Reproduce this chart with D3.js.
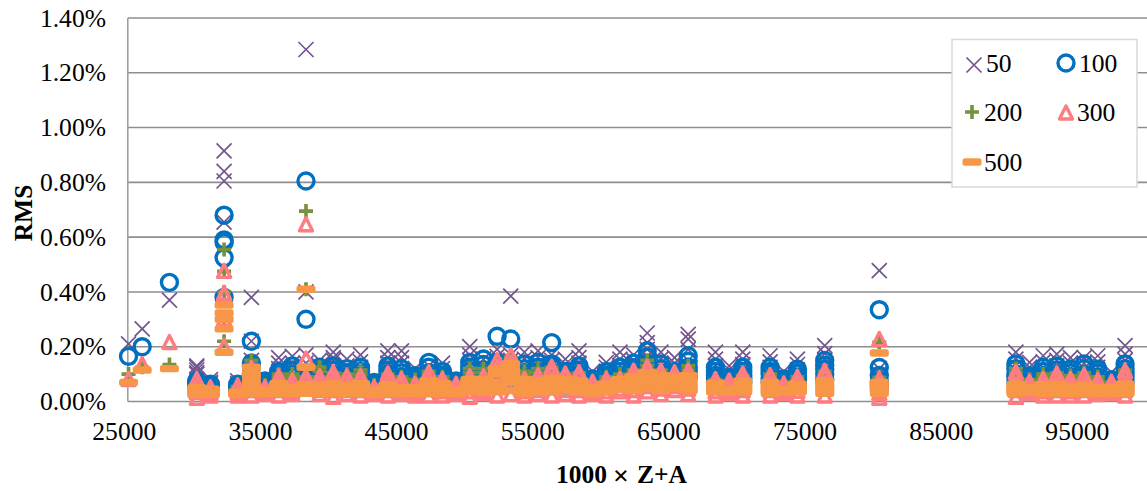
<!DOCTYPE html>
<html>
<head>
<meta charset="utf-8">
<script src="https://cdn.jsdelivr.net/npm/d3@7"></script>
<style>
  html, body { margin: 0; padding: 0; background: #fff; overflow: hidden; }
  text { font-family: "Liberation Serif", serif; fill: #000; }
  .axis path, .axis line { display: none; }
  .axis text { font-size: 25.6px; font-family: "Liberation Serif", serif; }
  .title { font-size: 25.5px; font-weight: bold; }
</style>
</head>
<body>
<svg id="Vis" width="1147" height="491"></svg>
<script>
/* DATA: one row per nuclide, grouped by element. rms values in percent */
const za = [
  25055, 26056, 28058,
  30064,30066,30068, 31069,31070,31071, 32070,32072,32073,32074,32076, 33073,33075,33076,
  34074,34076,34077,34078,34080,34082, 35079,35080,35081, 36082,36084,36086, 37085,37086,37087,
  38084,38086,38087,38088, 39088,39089,39090, 40090,40092,40094, 41092,41093,41094,
  42094,42096,42098, 43097,43098,43099, 44100,44102,44104, 45102,45103,45105,
  46104,46106,46108, 47107,47108,47109, 48110,48112,48114, 49113,49114,49115,
  50116,50118,50120, 51121,51122,51123, 52126,52128,52130, 53127,53129,53131,
  54130,54132,54134, 55133,55134,55135, 56134,56136,56138, 57138,57139,57140,
  58140,58141,58142, 59141,59142,59143, 60144,60146,60148, 61147,61148,61149,
  62150,62152,62154, 63151,63153,63155, 64156,64158,64160, 65158,65159,65160,
  66160,66162,66164, 68164,68166,68168, 69168,69169,69170, 70170,70172,70174,
  72176,72178,72180, 73180,73181,73182, 74182,74184,74186, 76188,76190,76192,
  80196,80198,80200,80202,
  90228,90230,90232, 91229,91231,91233, 92234,92236,92238, 93235,93237,93239,
  94238,94240,94242, 95241,95243,95245, 96244,96246,96248, 97247,97249,97251, 98249,98251,98252,
  // remaining isotopes, two per element
  30065,30067, 31072,31073, 33074,33077, 34075,34079, 35078,35082, 36083,36085, 37084,37088,
  38085,38089, 39087,39091, 40091,40093, 41091,41095, 42095,42097, 43096,43100, 44101,44103,
  45101,45104, 46105,46107, 47106,47110, 48111,48113, 49112,49116, 50117,50119, 51120,51124,
  52127,52129, 53128,53130, 54131,54133, 55132,55136, 56135,56137, 57137,57141, 58139,58143,
  59140,59144, 60145,60147, 61146,61150, 62151,62153, 63152,63154, 64157,64159, 65157,65161,
  66161,66163, 68165,68167, 69167,69171, 70171,70173, 72177,72179, 73179,73183, 74183,74185,
  76189,76191, 80199,80201,
  90229,90231, 91230,91232, 92235,92237, 93236,93238, 94239,94241, 95242,95244, 96245,96247,
  97248,97250, 98250,98253
];

const rms50 = [
  .21, .265, .37,
  .13,.115,.10, .08,.07,.055, .655,.805,.915,.84,.48, .075,.06,.05,
  .08,.13,.22,.38,.15,.10, .07,.06,.05, .16,.12,.09, .165,.125,.09,
  .10,.17,.40,1.285, .15,.11,.08, .18,.16,.11, .155,.115,.08,
  .17,.125,.09, .08,.065,.05, .185,.14,.10, .185,.14,.09,
  .12,.095,.07, .13,.105,.08, .14,.105,.08, .09,.07,.055,
  .20,.15,.105, .155,.12,.09, .19,.15,.11, .385,.15,.11,
  .18,.135,.10, .185,.14,.10, .17,.13,.10, .155,.12,.09,
  .185,.14,.10, .11,.085,.065, .143,.11,.08, .18,.13,.095,
  .17,.13,.10, .25,.19,.14, .18,.14,.105, .16,.12,.09,
  .245,.228,.15, .18,.13,.09, .13,.10,.07, .18,.135,.095,
  .167,.125,.09, .11,.085,.06, .155,.115,.085, .204,.15,.095,
  .478,.12,.10,.08,
  .18,.13,.095, .143,.105,.075, .167,.125,.09, .173,.13,.095,
  .16,.12,.09, .16,.12,.09, .167,.125,.09, .106,.08,.06, .204,.173,.10,
  //
  .125,.105, .065,.05, .065,.055, .12,.09, .06,.05, .14,.105, .14,.11,
  .14,.10, .13,.10, .15,.125, .13,.10, .145,.105, .07,.055, .16,.12,
  .16,.12, .10,.085, .115,.09, .12,.09, .08,.06, .17,.13, .13,.105,
  .165,.13, .17,.13, .155,.12, .16,.12, .15,.115, .135,.105, .16,.12,
  .095,.075, .125,.095, .155,.115, .15,.115, .215,.165, .155,.12, .14,.105,
  .19,.13, .155,.11, .115,.085, .155,.115, .145,.11, .095,.075, .135,.10,
  .175,.13, .09,.07,
  .155,.115, .125,.09, .145,.11, .15,.115, .14,.105, .14,.105, .145,.11,
  .09,.07, .15,.12
];

const rms100 = [
  .165, .20, .435,
  .075,.065,.05, .063,.05,.04, .38,.525,.68,.59,.58, .063,.05,.04,
  .06,.09,.22,.14,.13,.07, .075,.06,.045, .11,.085,.06, .13,.10,.07,
  .07,.09,.30,.805, .125,.095,.065, .13,.10,.07, .12,.09,.065,
  .125,.095,.07, .07,.055,.04, .13,.10,.07, .12,.09,.065,
  .094,.075,.055, .143,.105,.075, .11,.085,.06, .075,.06,.045,
  .143,.11,.08, .155,.115,.08, .238,.143,.09, .228,.12,.085,
  .137,.105,.075, .143,.11,.08, .215,.137,.09, .11,.085,.06,
  .13,.10,.07, .082,.065,.05, .11,.085,.06, .125,.095,.07,
  .14,.11,.08, .185,.14,.10, .137,.105,.075, .11,.085,.065,
  .167,.125,.09, .125,.095,.07, .088,.07,.055, .125,.095,.07,
  .125,.10,.07, .082,.065,.05, .118,.09,.065, .15,.118,.08,
  .335,.124,.07,.05,
  .137,.10,.07, .094,.07,.05, .125,.095,.07, .13,.10,.07,
  .118,.09,.065, .137,.10,.07, .118,.09,.065, .08,.06,.045, .137,.105,.07,
  //
  .07,.058, .057,.045, .057,.045, .10,.08, .068,.053, .098,.075, .115,.09,
  .10,.08, .11,.085, .115,.09, .105,.08, .11,.085, .063,.05, .115,.09,
  .105,.08, .085,.065, .125,.09, .097,.075, .068,.052, .125,.095, .135,.10,
  .125,.105, .14,.105, .12,.09, .125,.095, .125,.105, .097,.075, .115,.09,
  .073,.057, .097,.075, .11,.085, .123,.095, .163,.125, .12,.095, .097,.075,
  .147,.11, .11,.085, .08,.062, .11,.085, .11,.085, .073,.057, .104,.08,
  .132,.10, .095,.06,
  .12,.09, .083,.062, .11,.085, .115,.09, .105,.08, .12,.09, .105,.08,
  .07,.053, .12,.09
];

const rms200 = [
  .10, .125, .135,
  .06,.05,.04, .05,.04,.035, .22,.30,.555,.475,.40, .055,.045,.035,
  .05,.08,.15,.13,.10,.06, .06,.05,.04, .10,.075,.055, .10,.08,.06,
  .06,.09,.41,.695, .125,.09,.06, .105,.08,.06, .10,.075,.055,
  .115,.085,.06, .06,.05,.035, .10,.08,.055, .09,.07,.05,
  .08,.06,.045, .11,.085,.06, .09,.07,.05, .065,.05,.04,
  .12,.09,.065, .12,.09,.065, .135,.10,.07, .16,.11,.07,
  .11,.085,.06, .12,.09,.065, .125,.095,.07, .10,.075,.055,
  .105,.08,.06, .07,.055,.04, .09,.07,.05, .10,.08,.06,
  .115,.09,.065, .15,.115,.08, .115,.09,.065, .10,.08,.06,
  .13,.10,.07, .08,.065,.05, .075,.06,.045, .095,.075,.055,
  .10,.08,.055, .07,.055,.04, .09,.07,.05, .11,.085,.06,
  .216,.088,.06,.04,
  .12,.09,.06, .08,.06,.045, .10,.08,.055, .105,.08,.055,
  .095,.075,.055, .105,.08,.055, .09,.07,.05, .07,.055,.04, .115,.09,.06,
  //
  .055,.045, .045,.037, .05,.04, .09,.07, .055,.045, .088,.065, .09,.07,
  .08,.07, .11,.075, .095,.07, .088,.065, .10,.075, .055,.042, .09,.07,
  .08,.06, .07,.055, .098,.075, .08,.06, .058,.045, .105,.08, .105,.08,
  .12,.085, .135,.09, .098,.075, .105,.08, .11,.085, .088,.065, .093,.07,
  .063,.048, .08,.06, .09,.07, .103,.08, .132,.10, .10,.08, .09,.07,
  .115,.085, .072,.057, .068,.052, .085,.065, .09,.07, .063,.048, .08,.062,
  .098,.075, .075,.05,
  .105,.08, .07,.052, .09,.07, .093,.07, .085,.065, .093,.07, .08,.062,
  .063,.048, .10,.08
];

const rms300 = [
  .08, .135, .215,
  .08,.045,.012, .05,.035,.02, .20,.395,.475,.30,.39, .057,.04,.02,
  .04,.07,.12,.11,.09,.02, .05,.04,.025, .09,.06,.02, .075,.05,.025,
  .05,.075,.155,.645, .09,.06,.025, .105,.065,.015, .09,.055,.025,
  .09,.055,.02, .05,.035,.025, .10,.06,.02, .08,.05,.025,
  .063,.04,.02, .105,.065,.02, .08,.05,.02, .063,.04,.025,
  .09,.055,.015, .09,.055,.03, .15,.09,.02, .167,.10,.025,
  .08,.05,.02, .094,.06,.025, .125,.07,.02, .10,.06,.025,
  .105,.06,.02, .07,.045,.025, .08,.05,.02, .08,.06,.035,
  .11,.065,.02, .125,.08,.035, .11,.065,.025, .105,.07,.04,
  .11,.07,.025, .08,.05,.02, .075,.05,.03, .10,.06,.02,
  .094,.06,.02, .063,.045,.03, .088,.055,.02, .11,.065,.02,
  .226,.08,.05,.012,
  .106,.06,.015, .07,.045,.03, .08,.05,.02, .10,.06,.02,
  .08,.05,.02, .094,.055,.02, .076,.05,.025, .07,.045,.03, .11,.065,.02,
  //
  .066,.033, .042,.028, .047,.03, .08,.05, .043,.032, .075,.04, .063,.037,
  .09,.05, .075,.04, .085,.04, .075,.04, .075,.04, .043,.03, .082,.04,
  .066,.037, .052,.03, .086,.043, .066,.035, .052,.032, .075,.035, .075,.04,
  .125,.055, .14,.06, .066,.035, .078,.04, .105,.05, .085,.04, .088,.04,
  .058,.035, .066,.035, .07,.045, .09,.04, .105,.055, .09,.045, .09,.055,
  .09,.045, .066,.035, .062,.04, .082,.04, .078,.04, .053,.037, .072,.037,
  .09,.045, .065,.03,
  .088,.04, .058,.037, .066,.035, .082,.04, .066,.035, .078,.04, .063,.035,
  .058,.037, .09,.04
];

const rms500 = [
  .07, .115, .12,
  .05,.035,.025, .045,.035,.025, .18,.265,.352,.323,.30, .035,.03,.025,
  .03,.06,.125,.09,.07,.04, .04,.035,.03, .065,.045,.03, .05,.04,.03,
  .03,.06,.125,.41, .06,.045,.03, .065,.05,.03, .06,.045,.03,
  .065,.045,.03, .04,.035,.025, .06,.045,.03, .05,.04,.03,
  .05,.04,.03, .075,.05,.03, .065,.045,.03, .04,.035,.03,
  .08,.055,.035, .08,.055,.035, .12,.07,.035, .137,.095,.04,
  .08,.055,.03, .075,.055,.035, .085,.06,.035, .08,.06,.04,
  .075,.055,.035, .05,.04,.03, .063,.05,.035, .08,.06,.045,
  .09,.065,.04, .105,.075,.05, .094,.065,.04, .09,.065,.05,
  .094,.065,.04, .067,.05,.035, .045,.04,.035, .075,.055,.035,
  .07,.05,.03, .045,.04,.035, .063,.05,.035, .075,.05,.03,
  .177,.07,.045,.03,
  .063,.045,.03, .05,.04,.035, .06,.045,.03, .063,.045,.03,
  .055,.045,.03, .06,.045,.03, .05,.04,.03, .05,.04,.03, .063,.045,.03,
  //
  .043,.03, .04,.03, .032,.028, .10,.05, .037,.032, .055,.038, .045,.035,
  .06,.04, .052,.038, .055,.04, .052,.038, .055,.04, .037,.03, .052,.038,
  .045,.035, .045,.035, .063,.042, .055,.04, .037,.032, .068,.045, .068,.045,
  .10,.052, .115,.07, .068,.045, .065,.045, .072,.05, .07,.05, .065,.045,
  .045,.035, .056,.042, .07,.052, .078,.052, .09,.062, .08,.052, .078,.058,
  .08,.052, .058,.042, .042,.038, .065,.045, .06,.04, .042,.038, .056,.042,
  .062,.04, .06,.04,
  .055,.038, .045,.038, .052,.038, .055,.038, .05,.038, .052,.038, .045,.035,
  .045,.035, .055,.038
];

const seriesNames = ["50", "100", "200", "300", "500"];
const xTicks = [25000, 35000, 45000, 55000, 65000, 75000, 85000, 95000];
const yTicks = [0, 0.2, 0.4, 0.6, 0.8, 1.0, 1.2, 1.4];

const svg = d3.select("svg#Vis");

/* SCALES */
const xScale = d3.scaleLinear().domain([25000, 100000]).range([127.8, 1148.9]);
const yScale = d3.scaleLinear().domain([0, 1.4]).range([401.5, 18]);

/* GRID + AXES */
svg.append("g").selectAll("line")
  .data(yTicks)
  .enter()
  .append("line")
    .attr("x1", xScale(25000))
    .attr("x2", 1147)
    .attr("y1", d => yScale(d))
    .attr("y2", d => yScale(d))
    .attr("stroke", "#8e8e8e")
    .attr("stroke-width", 1.6);

svg.append("line")
  .attr("x1", xScale(25000)).attr("x2", xScale(25000))
  .attr("y1", yScale(1.4)).attr("y2", yScale(0))
  .attr("stroke", "#a0a0a0").attr("stroke-width", 1.6);

const xAxis = d3.axisBottom(xScale).tickValues(xTicks).tickFormat(d3.format("d")).tickSize(0);
const yAxis = d3.axisLeft(yScale).tickValues(yTicks).tickFormat(d => d.toFixed(2) + "%").tickSize(0);

svg.append("g").attr("class", "axis")
  .attr("transform", "translate(-4,401.5)")
  .call(xAxis)
  .call(g => g.selectAll("text").attr("dy", 0).attr("y", 38.5));

svg.append("g").attr("class", "axis")
  .attr("transform", "translate(106,0)")
  .call(yAxis)
  .call(g => g.selectAll("text").attr("x", 0).attr("dy", "0.32em"));

/* MARKERS */
const markers = {
  "50": g => g.append("path").attr("d", "M-7.5,-7.5L7.5,7.5M-7.5,7.5L7.5,-7.5")
      .attr("fill", "none").attr("stroke", "#72558f").attr("stroke-width", 1.7),
  "100": g => g.append("circle").attr("r", 8)
      .attr("fill", "none").attr("stroke", "#0070c0").attr("stroke-width", 3.4),
  "200": g => g.append("path").attr("d", "M-7,0H7M0,-7V7")
      .attr("fill", "none").attr("stroke", "#76923c").attr("stroke-width", 3.6),
  "300": g => g.append("path").attr("d", "M0,-7L6.5,6H-6.5Z")
      .attr("fill", "none").attr("stroke", "#ff7c80").attr("stroke-width", 3.4)
      .attr("stroke-linejoin", "round"),
  "500": g => g.append("rect").attr("x", -9.5).attr("y", -3.7).attr("width", 19).attr("height", 7.4)
      .attr("rx", 2.5).attr("fill", "#f79646")
};

function drawSeries(name, values) {
  const group = svg.append("g").attr("class", "series-" + name);
  values.forEach((v, i) => {
    const g = group.append("g")
      .attr("transform", "translate(" + xScale(za[i]) + "," + yScale(v) + ")");
    markers[name](g);
  });
}

[rms50, rms100, rms200, rms300, rms500].forEach((vals, i) => drawSeries(seriesNames[i], vals));

/* LEGEND */
const legend = svg.append("g");
legend.append("rect")
  .attr("x", 952).attr("y", 39.5).attr("width", 185).attr("height", 147.5)
  .attr("fill", "#fff").attr("stroke", "#d9d9d9").attr("stroke-width", 1.5);

const legendPos = [[974, 65, 986, 72], [1066, 63, 1079, 72], [972, 112, 984, 121], [1066, 113, 1077, 121], [972, 162, 984, 171]];
seriesNames.forEach((name, i) => {
  const p = legendPos[i];
  markers[name](legend.append("g").attr("transform", "translate(" + p[0] + "," + p[1] + ")"));
  legend.append("text")
    .attr("x", p[2])
    .attr("y", p[3])
    .attr("font-size", 25.6)
    .text(name);
});

/* TITLES */
svg.append("text").attr("class", "title")
  .attr("text-anchor", "middle")
  .attr("transform", "translate(32,213) rotate(-90)")
  .text("RMS");

const xTitle = svg.append("text").attr("class", "title")
  .attr("x", 556)
  .attr("y", 483);
xTitle.append("tspan").text("1000");
xTitle.append("tspan").attr("dx", 6).attr("dy", 1.5).style("font-size", "28px").text("×");
xTitle.append("tspan").attr("dx", 8).attr("dy", -1.5).text("Z+A");
</script>
</body>
</html>
